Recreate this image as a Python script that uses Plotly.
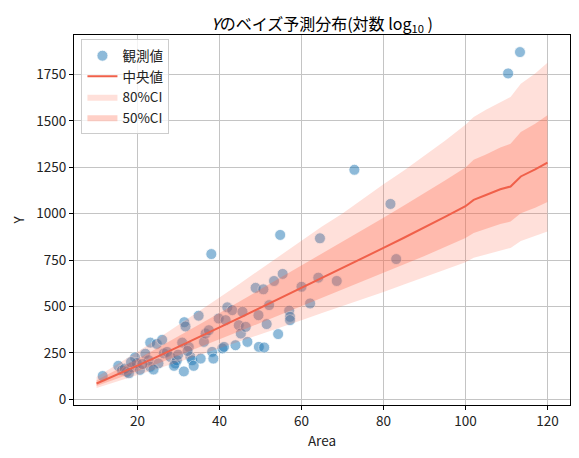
import plotly.graph_objects as go

# observed points (Area, Y)
obs_area = [11.5, 15.3, 16.2, 17.4, 18.6, 19.4, 19.8, 20.6, 21.9, 22.7, 23.1, 23.1,
            24.7, 26.0, 25.1, 26.4, 27.2, 28.0, 29.2, 29.6, 31.3, 31.4, 31.7, 30.9,
            32.5, 32.9, 33.3, 33.7, 34.9, 35.4, 36.2, 36.6, 37.4, 38.0, 38.2, 38.5,
            39.8, 40.7, 41.1, 41.5, 41.9, 43.1, 43.9, 44.7, 45.2, 45.6, 46.4, 46.8,
            48.8, 49.6, 50.7, 53.3, 55.4, 60.0, 64.1, 68.6, 62.1, 52.1, 57.0, 57.2,
            57.2, 51.5, 49.5, 54.3, 50.9, 54.8, 64.5, 72.9, 81.7, 83.1, 110.4, 113.3,
            16.9, 18.4, 21.2, 23.9, 28.9, 29.9, 32.2, 17.9]
obs_y = [125, 180, 156, 147, 172, 225, 195, 158, 245, 210, 305, 175,
         298, 320, 193, 247, 255, 228, 193, 210, 150, 415, 392, 305,
         282, 228, 210, 180, 450, 219, 309, 354, 372, 782, 255, 219,
         435, 274, 282, 426, 495, 480, 291, 399, 354, 471, 390, 309,
         600, 282, 592, 637, 675, 606, 655, 637, 516, 507, 477, 444,
         426, 405, 453, 351, 279, 885, 867, 1236, 1052, 755, 1755, 1870,
         165, 200, 190, 160, 180, 240, 260, 140]

# posterior predictive summary
grid_area = [10, 15, 20, 25, 30, 35, 40, 45, 50, 55, 60, 65, 70, 75, 80, 85, 90,
             95, 100, 102, 105, 108.5, 111, 113.5, 117, 120]
median = [85, 132, 181, 231, 282, 334, 387, 440, 493, 547, 600, 655, 706, 760,
          815, 870, 925, 982, 1040, 1074, 1100, 1131, 1146, 1200, 1238, 1274]
upper80 = [120, 186, 256, 327, 400, 472, 548, 624, 700, 775, 850, 930, 1000, 1080,
           1158, 1232, 1312, 1392, 1478, 1520, 1560, 1600, 1628, 1700, 1755, 1812]
lower80 = [60, 94, 128, 164, 200, 237, 274, 312, 350, 388, 426, 464, 501, 540,
           578, 618, 657, 697, 738, 762, 780, 802, 815, 852, 878, 904]
upper50 = [102, 158, 217, 277, 338, 401, 464, 528, 592, 656, 720, 786, 847, 912,
           978, 1044, 1110, 1178, 1248, 1290, 1318, 1356, 1376, 1440, 1484, 1530]
lower50 = [71, 110, 151, 193, 235, 279, 323, 367, 412, 457, 501, 547, 590, 635,
           681, 726, 772, 820, 868, 896, 917, 944, 957, 1002, 1032, 1063]

FONT = "Noto Sans CJK JP"
XR = [4.5, 125.5]
YR = [-31, 1962]

fig = go.Figure()

fig.add_trace(go.Scatter(
    x=obs_area, y=obs_y, mode="markers", name="観測値", legendrank=1,
    marker=dict(size=11, color="#1f77b4", opacity=0.5,
                line=dict(color="white", width=0.8)),
))

# bands and median go on an overlaid axis pair so they sit above the points
band = dict(xaxis="x2", yaxis="y2", mode="lines", line=dict(width=0))
fig.add_trace(go.Scatter(x=grid_area, y=lower80, showlegend=False, hoverinfo="skip", **band))
fig.add_trace(go.Scatter(x=grid_area, y=upper80, fill="tonexty",
                         fillcolor="rgba(255,99,71,0.2)", name="80%CI", legendrank=3, **band))
fig.add_trace(go.Scatter(x=grid_area, y=lower50, showlegend=False, hoverinfo="skip", **band))
fig.add_trace(go.Scatter(x=grid_area, y=upper50, fill="tonexty",
                         fillcolor="rgba(255,99,71,0.3)", name="50%CI", legendrank=4, **band))
fig.add_trace(go.Scatter(x=grid_area, y=median, mode="lines", name="中央値",
                         xaxis="x2", yaxis="y2", legendrank=2,
                         line=dict(color="#f0604a", width=2)))

axis_common = dict(
    showline=True, linecolor="black", linewidth=1, mirror=True,
    ticks="outside", ticklen=4, tickcolor="black",
    showgrid=True, gridcolor="#c4c4c4", gridwidth=0.8,
    zeroline=False, tickfont=dict(size=13.5, color="#222"), automargin=False,
)

# page body adds an 8px offset, so the figure is 8px smaller than the window
fig.update_layout(
    width=571, height=450,
    margin=dict(l=66, r=9, t=27, b=53),
    paper_bgcolor="white", plot_bgcolor="white",
    font=dict(family=FONT, size=13.5, color="#222"),
    title=dict(text="<i>Y</i>のベイズ予測分布(対数 log<sub>10</sub> )",
               x=0.5, xanchor="center", xref="paper",
               y=1, yanchor="bottom", yref="paper", pad=dict(b=5),
               font=dict(size=16, color="black")),
    xaxis=dict(axis_common, range=XR, tickvals=[20, 40, 60, 80, 100, 120],
               title=dict(text="Area", standoff=4, font=dict(size=13.5))),
    yaxis=dict(axis_common, range=YR,
               tickvals=[0, 250, 500, 750, 1000, 1250, 1500, 1750],
               title=dict(text="Y", standoff=10, font=dict(size=13.5))),
    xaxis2=dict(overlaying="x", range=XR, visible=False),
    yaxis2=dict(overlaying="y", range=YR, visible=False),
    legend=dict(x=0.015, y=0.988, xanchor="left", yanchor="top",
                traceorder="normal",
                bgcolor="rgba(255,255,255,0.8)", bordercolor="#cccccc", borderwidth=1,
                font=dict(size=13.5), tracegroupgap=0),
    showlegend=True,
)

fig.write_html("out.html")
